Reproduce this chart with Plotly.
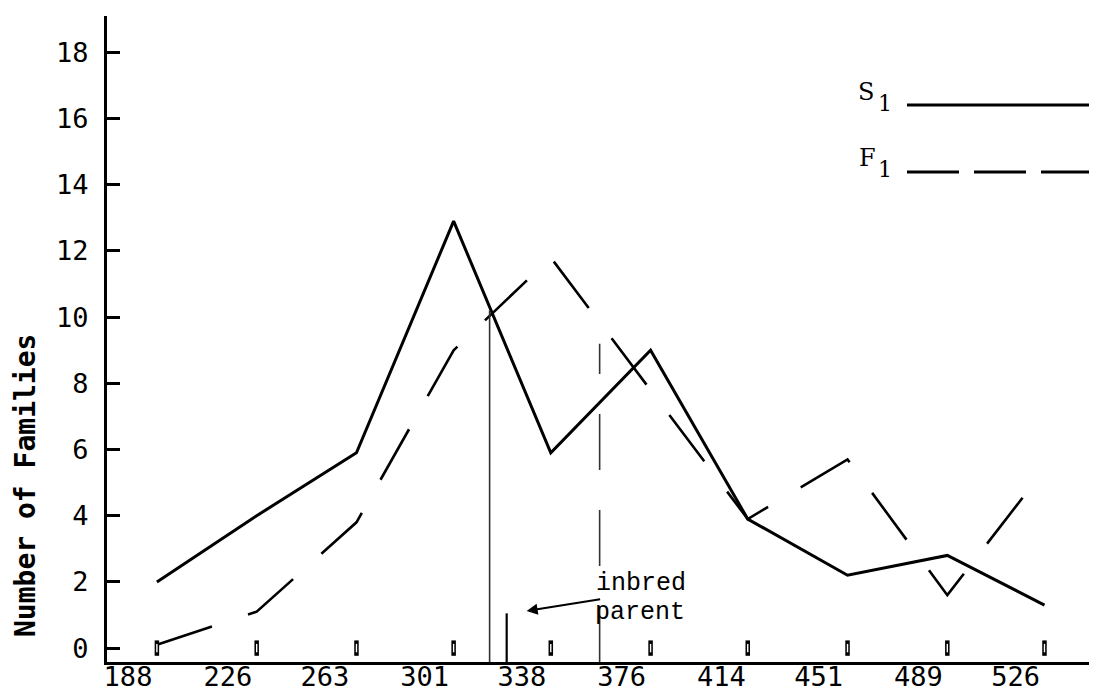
import plotly.graph_objects as go

# ---- data ----
class_labels = [188, 226, 263, 301, 338, 376, 414, 451, 489, 526]
class_mids = [199, 237, 275, 312, 349, 387, 424, 462, 500, 537]
s1_counts = [2.0, 4.0, 5.9, 12.9, 5.9, 9.0, 3.9, 2.2, 2.8, 1.3]
f1_counts = [0.1, 1.1, 3.8, 9.0, 11.8, 7.8, 3.9, 5.7, 1.6, 5.4]
y_ticks = [0, 2, 4, 6, 8, 10, 12, 14, 16, 18]

s1_mean_x = 325.7
s1_mean_top = 10.2
f1_mean_x = 367.6
f1_mean_top = 9.2
inbred_x = 332.2
inbred_top = 1.05

X_RANGE = [180, 557]
Y_RANGE = [-0.42, 19.1]

fig = go.Figure()

# S1 solid curve
fig.add_trace(go.Scatter(x=class_mids, y=s1_counts, mode="lines",
                         line=dict(color="black", width=3), name="S1",
                         showlegend=False))
# F1 dashed curve
fig.add_trace(go.Scatter(x=class_mids, y=f1_counts, mode="lines",
                         line=dict(color="black", width=2.6, dash="58px,38px"),
                         name="F1", showlegend=False))
# mean lines
fig.add_trace(go.Scatter(x=[s1_mean_x, s1_mean_x], y=[Y_RANGE[0], s1_mean_top],
                         mode="lines", line=dict(color="#333333", width=1.6),
                         showlegend=False))
fig.add_trace(go.Scatter(x=[f1_mean_x, f1_mean_x], y=[Y_RANGE[0], f1_mean_top],
                         mode="lines", line=dict(color="#333333", width=1.6, dash="56px,40px"),
                         showlegend=False))
# inbred parent line
fig.add_trace(go.Scatter(x=[inbred_x, inbred_x], y=[Y_RANGE[0], inbred_top],
                         mode="lines", line=dict(color="black", width=2.2),
                         showlegend=False))
# class midpoint marks on the zero line (small hollow bars)
fig.add_trace(go.Scatter(x=class_mids, y=[0] * len(class_mids), mode="markers",
                         marker=dict(symbol="line-ns", size=11,
                                     line=dict(color="black", width=4.5)),
                         showlegend=False))
fig.add_trace(go.Scatter(x=class_mids, y=[0] * len(class_mids), mode="markers",
                         marker=dict(symbol="line-ns", size=6,
                                     line=dict(color="white", width=1.4)),
                         showlegend=False))

mono = "DejaVu Sans Mono"
type_font = "DejaVu Serif"

# screen-pixel helpers (plot area spans x 107..1097, y 16..662 on screen)
def px_x(p):
    return (p - 107) / 990.0

def px_y(p):
    return (662 - p) / 646.0

annotations = [
    dict(text="Number of Families", textangle=-90, xref="paper", yref="paper",
         x=px_x(25), y=px_y(486), xanchor="center", yanchor="middle",
         showarrow=False, font=dict(family=mono, size=28, color="black", weight="bold")),
    dict(text="S", xref="paper", yref="paper", x=px_x(866), y=px_y(92),
         xanchor="center", yanchor="middle", showarrow=False,
         font=dict(family=type_font, size=24, color="black")),
    dict(text="1", xref="paper", yref="paper", x=px_x(885), y=px_y(103),
         xanchor="center", yanchor="middle", showarrow=False,
         font=dict(family=type_font, size=22, color="black")),
    dict(text="F", xref="paper", yref="paper", x=px_x(867), y=px_y(158),
         xanchor="center", yanchor="middle", showarrow=False,
         font=dict(family=type_font, size=24, color="black")),
    dict(text="1", xref="paper", yref="paper", x=px_x(885), y=px_y(170),
         xanchor="center", yanchor="middle", showarrow=False,
         font=dict(family=type_font, size=22, color="black")),
    dict(text="inbred", xref="paper", yref="paper", x=px_x(595), y=px_y(583),
         xanchor="left", yanchor="middle", showarrow=False, borderpad=0,
         font=dict(family="Liberation Mono", size=25, color="black")),
    dict(text="parent", xref="paper", yref="paper", x=px_x(594), y=px_y(612),
         xanchor="left", yanchor="middle", showarrow=False, borderpad=0,
         font=dict(family="Liberation Mono", size=25, color="black")),
    dict(text="", x=339.8, y=1.12, xref="x", yref="y", ax=75, ay=-12,
         axref="pixel", ayref="pixel", showarrow=True, arrowhead=2,
         arrowsize=1.1, arrowwidth=2, arrowcolor="black"),
]

shapes = [
    dict(type="line", xref="paper", yref="paper", x0=px_x(907), x1=1.0,
         y0=px_y(105), y1=px_y(105), line=dict(color="black", width=3)),
    dict(type="line", xref="paper", yref="paper", x0=px_x(907), x1=1.0,
         y0=px_y(172), y1=px_y(172), line=dict(color="black", width=3, dash="52px,15px")),
]

# the page body adds an 8px offset, so margins compensate for it
fig.update_layout(
    width=1097, height=692,
    margin=dict(l=99, r=8, t=8, b=38),
    paper_bgcolor="white", plot_bgcolor="white",
    annotations=annotations, shapes=shapes,
    showlegend=False,
    xaxis=dict(range=X_RANGE, tickmode="array", tickvals=class_labels,
               ticktext=[str(v) for v in class_labels], ticks="",
               showgrid=False, zeroline=False, showline=True,
               linecolor="black", linewidth=3, automargin=False,
               ticklabelstandoff=-11,
               tickfont=dict(family=mono, size=27, color="black")),
    yaxis=dict(range=Y_RANGE, tickmode="array", tickvals=y_ticks,
               ticks="inside", ticklen=13, tickwidth=3, tickcolor="black",
               showgrid=False, zeroline=False, showline=True,
               linecolor="black", linewidth=3, ticklabelstandoff=10,
               automargin=False,
               tickfont=dict(family=mono, size=27, color="black")),
)

fig.write_html("out.html")
